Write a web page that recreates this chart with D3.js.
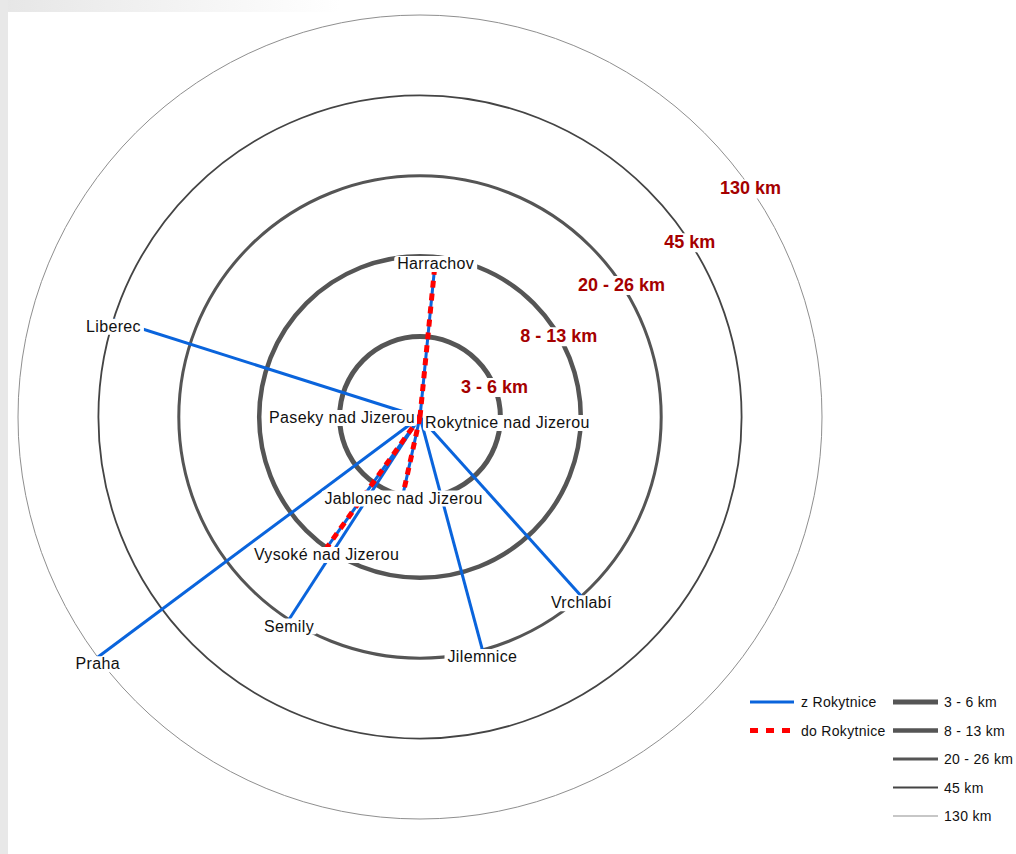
<!DOCTYPE html>
<html>
<head>
<meta charset="utf-8">
<script src="https://cdn.jsdelivr.net/npm/d3@7/dist/d3.min.js"></script>
<style>
  html, body { margin: 0; padding: 0; background: #fff; }
  svg { display: block; font-family: "Liberation Sans", Arial, sans-serif; }
</style>
</head>
<body>
<div id="chart"></div>
<script>
// ---- data ----
const ringLabels = ["3 - 6 km", "8 - 13 km", "20 - 26 km", "45 km", "130 km"];
const ringLabelBearing = [67.8, 59.7, 56.7, 57.0, 55.3];

const cities = ["Harrachov", "Liberec", "Praha", "Semily", "Jilemnice", "Vrchlabí", "Jablonec nad Jizerou", "Vysoké nad Jizerou"];
const cityRing = [2, 4, 5, 3, 3, 3, 0.95, 2];           // distance band (ring index, 1 = "3 - 6 km")
const cityBearing = [5.6, 287.6, 233.3, 212.9, 165.0, 138.0, 192.4, 215.5]; // degrees clockwise from north
const fromRokytnice = [true, true, true, true, true, true, true, true];
const toRokytnice = [true, false, false, false, false, false, true, true];

const centerName = "Rokytnice nad Jizerou";
const nearName = "Paseky nad Jizerou";

const seriesNames = ["z Rokytnice", "do Rokytnice"];

// ---- layout ----
const W = 1016, H = 854;
const cx = 420, cy = 417;
const ringWidth = [5, 4.5, 3, 1.8, 1];
const ringColor = ["#555", "#555", "#555", "#444", "#8f8f8f"];
const blue = "#0a64dc", red = "#ff0000", labelRed = "#a50000";

const r = d3.scaleLinear().domain([0, 5]).range([0, 402]);
const rad = d => d * Math.PI / 180;
const px = (ring, b) => cx + r(ring) * Math.sin(rad(b));
const py = (ring, b) => cy - r(ring) * Math.cos(rad(b));

const svg = d3.select("#chart").append("svg").attr("width", W).attr("height", H);

// frame
const defs = svg.append("defs");
const g1 = defs.append("linearGradient").attr("id", "topfade").attr("x1", 0).attr("x2", 1).attr("y1", 0).attr("y2", 0);
g1.append("stop").attr("offset", "0%").attr("stop-color", "#e6e6e6");
g1.append("stop").attr("offset", "100%").attr("stop-color", "#ffffff");
svg.append("rect").attr("x", 0).attr("y", 0).attr("width", W).attr("height", H).attr("fill", "#fff");
svg.append("rect").attr("x", 0).attr("y", 0).attr("width", 340).attr("height", 12).attr("fill", "url(#topfade)");
svg.append("rect").attr("x", 0).attr("y", 0).attr("width", 8).attr("height", H).attr("fill", "#e8e8e8");

// rings
svg.append("g").selectAll("circle").data(ringLabels).join("circle")
  .attr("cx", cx).attr("cy", cy)
  .attr("r", (d, i) => r(i + 1))
  .attr("fill", "none")
  .attr("stroke", (d, i) => ringColor[i])
  .attr("stroke-width", (d, i) => ringWidth[i]);

// lines
const idx = d3.range(cities.length);
svg.append("g").selectAll("line").data(idx.filter(i => fromRokytnice[i])).join("line")
  .attr("x1", cx).attr("y1", cy)
  .attr("x2", i => px(cityRing[i], cityBearing[i]))
  .attr("y2", i => py(cityRing[i], cityBearing[i]))
  .attr("stroke", blue).attr("stroke-width", 3);
svg.append("g").selectAll("line").data(idx.filter(i => toRokytnice[i])).join("line")
  .attr("x1", cx).attr("y1", cy)
  .attr("x2", i => px(cityRing[i], cityBearing[i]))
  .attr("y2", i => py(cityRing[i], cityBearing[i]))
  .attr("stroke", red).attr("stroke-width", 5).attr("stroke-dasharray", "7,6");

// halo helper: white box behind text
function boxHalo(sel, pad) {
  sel.each(function () {
    const b = this.getBBox();
    d3.select(this.parentNode).insert("rect", () => this)
      .attr("x", b.x - pad).attr("y", b.y + 1).attr("width", b.width + 2 * pad).attr("height", b.height - 1)
      .attr("rx", 3).attr("fill", "#fff");
  });
}

// ring labels
const ringLab = svg.append("g").selectAll("text").data(ringLabels).join("text")
  .attr("x", (d, i) => px(i + 1, ringLabelBearing[i]))
  .attr("y", (d, i) => py(i + 1, ringLabelBearing[i]))
  .attr("dy", "0.35em")
  .attr("text-anchor", "middle")
  .attr("font-size", 18).attr("font-weight", "bold")
  .attr("fill", labelRed)
  .text(d => d);
boxHalo(ringLab, 2);

// city labels
const labelG = svg.append("g").attr("font-size", 16).attr("fill", "#111").attr("letter-spacing", "0.35px");
const cityLab = labelG.selectAll("text.city").data(idx).join("text").attr("class", "city")
  .attr("x", i => px(cityRing[i], cityBearing[i]))
  .attr("y", i => py(cityRing[i], cityBearing[i]) + 12)
  .attr("text-anchor", "middle")
  .text(i => cities[i]);
const cLab = labelG.append("text").attr("x", cx + 5).attr("y", cy + 11).attr("text-anchor", "start").text(centerName);
const nLab = labelG.append("text").attr("x", cx - 5).attr("y", cy + 6).attr("text-anchor", "end").text(nearName);
boxHalo(cityLab, 3);
boxHalo(cLab, 2);
boxHalo(nLab, 2);

// legend
const leg = svg.append("g").attr("font-size", 14).attr("fill", "#111").attr("letter-spacing", "0.3px");
const legY = d3.scalePoint().domain(d3.range(5)).range([702, 816]);
leg.append("line").attr("x1", 750).attr("x2", 794).attr("y1", legY(0)).attr("y2", legY(0))
  .attr("stroke", blue).attr("stroke-width", 3);
leg.append("line").attr("x1", 750).attr("x2", 794).attr("y1", legY(1)).attr("y2", legY(1))
  .attr("stroke", red).attr("stroke-width", 5).attr("stroke-dasharray", "8,8");
leg.selectAll("text.s").data(seriesNames).join("text").attr("class", "s")
  .attr("x", 801).attr("y", (d, i) => legY(i) + 5).text(d => d);
leg.selectAll("line.ring").data(ringLabels).join("line").attr("class", "ring")
  .attr("x1", 893).attr("x2", 938)
  .attr("y1", (d, i) => legY(i)).attr("y2", (d, i) => legY(i))
  .attr("stroke", (d, i) => ringColor[i]).attr("stroke-width", (d, i) => ringWidth[i]);
leg.selectAll("text.ring").data(ringLabels).join("text").attr("class", "ring")
  .attr("x", 944).attr("y", (d, i) => legY(i) + 5).text(d => d);
</script>
</body>
</html>
